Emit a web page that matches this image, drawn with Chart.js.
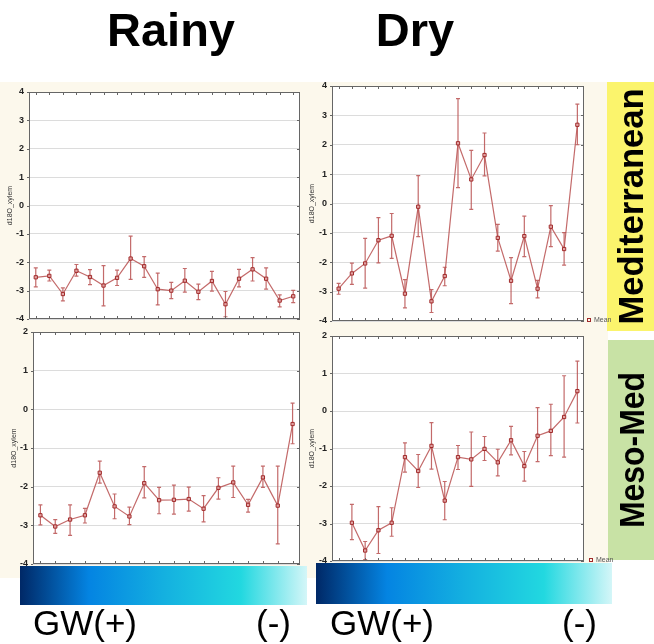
<!DOCTYPE html>
<html>
<head>
<meta charset="utf-8">
<script src="https://cdn.jsdelivr.net/npm/chart.js@4.4.1/dist/chart.umd.min.js"></script>
<style>
  html, body { margin: 0; padding: 0; background: #fff; }
  #page { position: relative; width: 654px; height: 644px; overflow: hidden; background: #fff; }
  #cream { position: absolute; left: 0; top: 82px; width: 608px; height: 496px; background: #fcf8ec; }
  canvas.panel { position: absolute; }
  #overlay { position: absolute; left: 0; top: 0; z-index: 5; }
</style>
</head>
<body>
<div id="page">
  <div id="cream"></div>
  <canvas id="tl" class="panel" width="305" height="245" style="left:0;top:80px"></canvas>
  <canvas id="tr" class="panel" width="303" height="255" style="left:305px;top:80px"></canvas>
  <canvas id="bl" class="panel" width="305" height="250" style="left:0;top:322px"></canvas>
  <canvas id="br" class="panel" width="303" height="245" style="left:305px;top:325px"></canvas>
  <canvas id="overlay" width="654" height="644"></canvas>
</div>
<script>
// site order along the groundwater gradient (GW+ on the left, GW- on the right)
const rainyMedSites = ['1','2','3','4','5','6','7','8','9','10','11','12','13','14','15','16','17','18','19','20'];
const dryMedSites = ['1','2','3','4','5','6','7','8','9','10','11','12','13','14','15','16','17','18','19'];
const rainyMesoSites = ['1','2','3','4','5','6','7','8','9','10','11','12','13','14','15','16','17','18'];
const dryMesoSites = ['1','2','3','4','5','6','7','8','9','10','11','12','13','14','15','16','17','18','19'];

// d18O xylem: mean and mean +/- SE
const rainyMedMean = [-2.53,-2.48,-3.12,-2.30,-2.52,-2.82,-2.55,-1.87,-2.14,-2.95,-3.00,-2.65,-3.04,-2.66,-3.48,-2.58,-2.25,-2.58,-3.35,-3.20];
const rainyMedUpper = [-2.20,-2.28,-2.90,-2.08,-2.26,-2.12,-2.28,-1.08,-1.80,-2.38,-2.71,-2.22,-2.77,-2.32,-3.03,-2.25,-1.84,-2.20,-3.15,-2.99];
const rainyMedLower = [-2.87,-2.66,-3.36,-2.49,-2.79,-3.54,-2.82,-2.60,-2.53,-3.50,-3.28,-3.05,-3.32,-3.02,-3.92,-2.87,-2.66,-2.95,-3.57,-3.42];

const dryMedMean = [-2.90,-2.38,-2.04,-1.25,-1.10,-3.07,-0.11,-3.33,-2.47,2.05,0.82,1.65,-1.17,-2.63,-1.11,-2.90,-0.79,-1.55,2.68];
const dryMedUpper = [-2.72,-2.03,-1.19,-0.48,-0.34,-2.59,0.95,-2.93,-2.17,3.57,1.81,2.40,-0.71,-1.84,-0.43,-2.62,-0.07,-0.99,3.38];
const dryMedLower = [-3.09,-2.75,-2.88,-2.02,-1.87,-3.55,-1.13,-3.71,-2.80,0.54,-0.20,0.94,-1.62,-3.41,-1.81,-3.21,-1.47,-2.10,2.00];

const rainyMesoMean = [-2.74,-3.03,-2.85,-2.74,-1.64,-2.51,-2.77,-1.91,-2.35,-2.34,-2.32,-2.57,-2.03,-1.89,-2.47,-1.76,-2.49,-0.38];
const rainyMesoUpper = [-2.47,-2.85,-2.47,-2.56,-1.34,-2.19,-2.53,-1.48,-2.02,-1.96,-2.01,-2.23,-1.77,-1.47,-2.33,-1.47,-1.47,0.16];
const rainyMesoLower = [-2.99,-3.21,-3.26,-2.94,-1.91,-2.83,-2.98,-2.29,-2.70,-2.71,-2.63,-2.91,-2.32,-2.28,-2.66,-2.02,-3.48,-0.89];

const dryMesoMean = [null,-2.98,-3.72,-3.18,-2.98,-1.23,-1.60,-0.93,-2.39,-1.23,-1.29,-1.01,-1.37,-0.78,-1.47,-0.66,-0.53,-0.16,0.53];
const dryMesoUpper = [null,-2.49,-3.48,-2.55,-2.58,-0.85,-1.16,-0.31,-1.88,-0.92,-0.56,-0.68,-1.02,-0.41,-1.08,0.09,0.18,0.94,1.33];
const dryMesoLower = [null,-3.43,-3.96,-3.80,-3.34,-1.63,-2.04,-1.55,-2.90,-1.56,-2.01,-1.32,-1.73,-1.17,-1.87,-1.35,-1.19,-1.23,-0.32];

// y ticks
const medTicks = [-4,-3,-2,-1,0,1,2,3,4];
const mesoTicks = [-4,-3,-2,-1,0,1,2];

const lineColor = 'rgba(185, 80, 80, 0.85)';
const markColor = '#a02a2a';

// white plot area + dark frame with small inward ticks (Statistica look)
const frame = {
  id: 'frame',
  beforeDatasetsDraw(chart) {
    const { ctx, chartArea: a } = chart;
    ctx.save();
    ctx.fillStyle = '#fff';
    ctx.globalCompositeOperation = 'destination-over';
    ctx.fillRect(a.left, a.top, a.right - a.left, a.bottom - a.top);
    ctx.restore();
  },
  afterDraw(chart) {
    const { ctx, chartArea: a, scales: { x, y } } = chart;
    ctx.save();
    ctx.strokeStyle = '#666';
    ctx.lineWidth = 1;
    ctx.strokeRect(a.left + 0.5, a.top + 0.5, a.right - a.left - 1, a.bottom - a.top - 1);
    ctx.beginPath();
    chart.data.labels.forEach((_, i) => {
      const px = Math.round(x.getPixelForValue(i)) + 0.5;
      ctx.moveTo(px, a.top); ctx.lineTo(px, a.top + 3);
      ctx.moveTo(px, a.bottom); ctx.lineTo(px, a.bottom - 3);
    });
    y.ticks.forEach(t => {
      const py = Math.round(y.getPixelForValue(t.value)) + 0.5;
      ctx.moveTo(a.right, py); ctx.lineTo(a.right - 3, py);
      ctx.moveTo(a.left, py); ctx.lineTo(a.left - 2, py);
    });
    ctx.stroke();
    ctx.restore();
  }
};

// vertical SE whiskers with caps
const errorBars = {
  id: 'errorBars',
  beforeDatasetsDraw(chart, args, opts) {
    const { ctx, scales: { x, y } } = chart;
    ctx.save();
    ctx.strokeStyle = lineColor;
    ctx.lineWidth = 1.2;
    ctx.beginPath();
    opts.lower.forEach((lo, i) => {
      if (lo == null) return;
      const px = x.getPixelForValue(i);
      const y1 = y.getPixelForValue(opts.upper[i]);
      const y2 = y.getPixelForValue(lo);
      ctx.moveTo(px, y1); ctx.lineTo(px, y2);
      ctx.moveTo(px - 2, y1); ctx.lineTo(px + 2, y1);
      ctx.moveTo(px - 2, y2); ctx.lineTo(px + 2, y2);
    });
    ctx.stroke();
    ctx.restore();
  }
};

function makePanel(id, sites, mean, upper, lower, ticks, axisW, titlePad, pad) {
  new Chart(document.getElementById(id), {
    type: 'line',
    data: {
      labels: sites,
      datasets: [{
        label: 'Mean',
        data: mean,
        borderColor: lineColor,
        borderWidth: 1.2,
        pointStyle: 'rect',
        pointRadius: 2.3,
        pointBorderWidth: 1,
        pointBorderColor: markColor,
        pointBackgroundColor: 'rgba(230, 170, 170, 0.9)',
        tension: 0,
        spanGaps: false,
      }],
    },
    options: {
      responsive: false,
      animation: false,
      layout: { padding: pad },
      scales: {
        x: { type: 'category', offset: true, display: false },
        y: {
          min: ticks[0],
          max: ticks[ticks.length - 1],
          // fixed axis width, and no extra room for the end labels
          afterFit: (s) => { s.width = axisW; s.paddingTop = 0; s.paddingBottom = 0; },
          afterBuildTicks: (s) => { s.ticks = ticks.map(v => ({ value: v })); },
          ticks: {
            color: '#222',
            padding: 5,
            font: { family: 'Liberation Sans, Arial, sans-serif', size: 9, weight: 'bold' },
          },
          grid: { color: '#dcdcdc', drawTicks: false },
          border: { display: false },
          title: {
            display: true,
            text: 'd18O_xylem',
            color: '#333',
            padding: { top: titlePad, bottom: 0 },
            font: { family: 'Liberation Sans, Arial, sans-serif', size: 7 },
          },
        },
      },
      plugins: {
        legend: { display: false },
        tooltip: { enabled: false },
        errorBars: { upper, lower },
      },
    },
    plugins: [frame, errorBars],
  });
}

makePanel('tl', rainyMedSites, rainyMedMean, rainyMedUpper, rainyMedLower, medTicks, 29, 6, { top: 12, right: 4, bottom: 6, left: 0 });
makePanel('tr', dryMedSites, dryMedMean, dryMedUpper, dryMedLower, medTicks, 27, 3, { top: 6, right: 24, bottom: 14, left: 0 });
makePanel('bl', rainyMesoSites, rainyMesoMean, rainyMesoUpper, rainyMesoLower, mesoTicks, 33, 10, { top: 10, right: 3, bottom: 8, left: 0 });
makePanel('br', dryMesoSites, dryMesoMean, dryMesoUpper, dryMesoLower, mesoTicks, 27, 3, { top: 11, right: 24, bottom: 9, left: 0 });

// titles, side labels, GW gradient bars
(function decorate() {
  const ctx = document.getElementById('overlay').getContext('2d');
  const sans = 'Liberation Sans, Arial, sans-serif';

  ctx.fillStyle = '#000';
  ctx.textAlign = 'center';
  ctx.textBaseline = 'alphabetic';
  ctx.font = 'bold 47px ' + sans;
  ctx.fillText('Rainy', 171, 46);
  ctx.fillText('Dry', 415, 46);

  function sideLabel(text, x, y0, y1, bg, len) {
    ctx.fillStyle = bg;
    ctx.fillRect(x, y0, 654 - x, y1 - y0);
    ctx.save();
    ctx.translate(x + 36, (y0 + y1) / 2);
    ctx.rotate(-Math.PI / 2);
    ctx.font = 'bold 35px ' + sans;
    const w = ctx.measureText(text).width;
    ctx.scale(len / w, 1);
    ctx.fillStyle = '#000';
    ctx.textAlign = 'center';
    ctx.fillText(text, 0, 0);
    ctx.restore();
  }
  sideLabel('Mediterranean', 607, 82, 331, '#fbf46c', 236);
  sideLabel('Meso-Med', 608, 340, 560, '#c8e2a5', 156);

  function gwBar(x0, x1, y0, y1) {
    const g = ctx.createLinearGradient(x0, 0, x1, 0);
    g.addColorStop(0, '#002866');
    g.addColorStop(0.24, '#0484e2');
    g.addColorStop(0.5, '#14b0e0');
    g.addColorStop(0.77, '#22d8e0');
    g.addColorStop(1, '#d4f6f8');
    ctx.fillStyle = g;
    ctx.fillRect(x0, y0, x1 - x0, y1 - y0);
  }
  gwBar(20, 307, 566, 605);
  gwBar(316, 612, 563, 604);

  ctx.fillStyle = '#000';
  ctx.textAlign = 'left';
  ctx.font = '35px ' + sans;
  ctx.fillText('GW(+)', 33, 635);
  ctx.fillText('(-)', 256, 635);
  ctx.fillText('GW(+)', 330, 635);
  ctx.fillText('(-)', 562, 635);

  // tiny Statistica legends
  ctx.font = '7px ' + sans;
  ctx.fillStyle = '#555';
  ctx.textBaseline = 'middle';
  ctx.fillText('Mean', 594, 320);
  ctx.fillText('Mean', 596, 560);
  ctx.strokeStyle = markColor;
  ctx.lineWidth = 1;
  ctx.strokeRect(587.5, 318.5, 3, 3);
  ctx.strokeRect(589.5, 558.5, 3, 3);
})();
</script>
</body>
</html>
